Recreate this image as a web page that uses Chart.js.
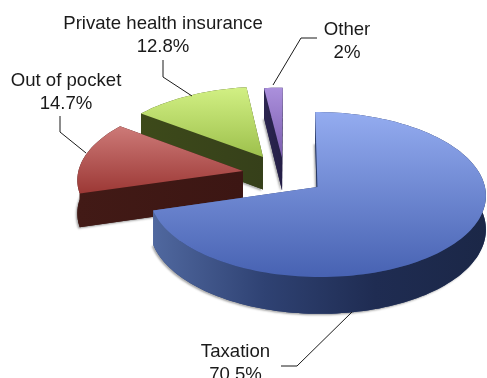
<!DOCTYPE html>
<html>
<head>
<meta charset="utf-8">
<style>
  html, body { margin: 0; padding: 0; background: #fff; overflow: hidden; }
  canvas { display: block; }
</style>
<script src="https://cdn.jsdelivr.net/npm/chart.js@4/dist/chart.umd.min.js"></script>
</head>
<body>
<canvas id="pie" width="487" height="378"></canvas>
<script>
const categories = ['Taxation', 'Out of pocket', 'Private health insurance', 'Other'];
const shares = [70.5, 14.7, 12.8, 2];

// Look of each slice: top face gradient (back to front) and side wall gradient (left to right)
const topColors = [['#94acf0', '#4762b2'], ['#cd7a78', '#9c3835'], ['#d2f084', '#9dc04c'], ['#ab90dc', '#7a5cae']];
const wallColors = [
  ['#50689f', '#2f4273', '#1f2c52', '#1b2747'],
  ['#421a16', '#3c1613'],
  ['#3d4a1a', '#36401a'],
  ['#2c2650', '#241e46']
];
// Where each slice's tip sits on the table plane, in radii
const explode = [[0.164, 0], [-0.286, 0.199], [-0.167, 0.379], [-0.049, 0.365]];

// Callouts: text block plus its elbow line
const callouts = [
  { lines: ['Taxation', '70.5%'], x: 235.5, y: 357, path: [[352, 312], [297, 366], [281, 366]] },
  { lines: ['Out of pocket', '14.7%'], x: 66, y: 86, path: [[86, 153], [60, 132], [60, 116]] },
  { lines: ['Private health insurance', '12.8%'], x: 163, y: 29, path: [[192, 96], [163, 77], [163, 60]] },
  { lines: ['Other', '2%'], x: 347, y: 35, path: [[273, 85], [301, 38], [317, 38]] }
];

// Perspective projection of the pie plane onto the canvas
const originX = 290, originY = 187, radiusX = 167.5, radiusY = 81.8, tilt = 0.0909, thickness = 33.5;

function project(x, z, drop) {
  const w = 1 / (1 + tilt * z);
  return [originX + radiusX * x * w, originY - radiusY * z * w + drop * thickness * w];
}

function outline(arc, shift) {
  // startAngle is measured from 3 o'clock, the plane from 12 o'clock
  const a0 = arc.startAngle + Math.PI / 2, a1 = arc.endAngle + Math.PI / 2;
  const steps = Math.max(4, Math.ceil((a1 - a0) / 0.03));
  const rim = [];
  for (let i = 0; i <= steps; i++) {
    const a = a0 + (a1 - a0) * i / steps;
    rim.push([shift[0] + Math.sin(a), shift[1] + Math.cos(a)]);
  }
  return { tip: [shift[0], shift[1]], rim };
}

function trace(ctx, pts) {
  ctx.beginPath();
  pts.forEach((p, i) => i ? ctx.lineTo(p[0], p[1]) : ctx.moveTo(p[0], p[1]));
  ctx.closePath();
}

function drawSlice(ctx, arc, i) {
  const { tip, rim } = outline(arc, explode[i]);
  const at = drop => p => project(p[0], p[1], drop);
  const topRim = rim.map(at(0)), lowRim = rim.map(at(1));
  const topTip = at(0)(tip), lowTip = at(1)(tip);
  const top = [topTip, ...topRim], bottom = [lowTip, ...lowRim];
  const xs = bottom.map(p => p[0]), ys = top.map(p => p[1]);

  const wall = ctx.createLinearGradient(Math.min(...xs), 0, Math.max(...xs), 0);
  wallColors[i].forEach((c, k) => wall.addColorStop(k / (wallColors[i].length - 1), c));

  // Soft drop shadow under the solid
  ctx.save();
  ctx.shadowColor = 'rgba(70,70,70,0.45)';
  ctx.shadowBlur = 2;
  ctx.shadowOffsetX = -1.5;
  ctx.shadowOffsetY = 1.5;
  ctx.fillStyle = wallColors[i][1];
  trace(ctx, bottom);
  ctx.fill();
  ctx.restore();

  // Side walls: the two cut edges, then the curved rim as one band
  ctx.fillStyle = wall;
  trace(ctx, [topTip, topRim[0], lowRim[0], lowTip]);
  ctx.fill();
  const last = rim.length - 1;
  trace(ctx, [topTip, topRim[last], lowRim[last], lowTip]);
  ctx.fill();
  trace(ctx, [...topRim, ...lowRim.slice().reverse()]);
  ctx.fill();

  const face = ctx.createLinearGradient(0, Math.min(...ys), 0, Math.max(...ys));
  face.addColorStop(0, topColors[i][0]);
  face.addColorStop(1, topColors[i][1]);
  ctx.fillStyle = face;
  trace(ctx, top);
  ctx.fill();
}

const solidPie = {
  id: 'solidPie',
  beforeDatasetDraw(chart, args) {
    const ctx = chart.ctx;
    const arcs = chart.getDatasetMeta(args.index).data;
    // Painted back to front
    [3, 2, 1, 0].forEach(i => drawSlice(ctx, arcs[i], i));
    return false;
  },
  afterDraw(chart) {
    const ctx = chart.ctx;
    ctx.save();
    ctx.strokeStyle = '#1a1a1a';
    ctx.lineWidth = 1;
    ctx.fillStyle = '#1a1a1a';
    ctx.font = '18.6px "Liberation Sans", Arial, sans-serif';
    ctx.textAlign = 'center';
    callouts.forEach(c => {
      ctx.beginPath();
      c.path.forEach((p, i) => i ? ctx.lineTo(p[0], p[1]) : ctx.moveTo(p[0], p[1]));
      ctx.stroke();
      c.lines.forEach((t, i) => ctx.fillText(t, c.x, c.y + i * 22.5));
    });
    ctx.restore();
  }
};

new Chart(document.getElementById('pie'), {
  type: 'pie',
  data: {
    labels: categories,
    datasets: [{ data: shares, borderWidth: 0 }]
  },
  options: {
    responsive: false,
    animation: false,
    devicePixelRatio: 1,
    plugins: { legend: { display: false }, tooltip: { enabled: false } }
  },
  plugins: [solidPie]
});
</script>
</body>
</html>
